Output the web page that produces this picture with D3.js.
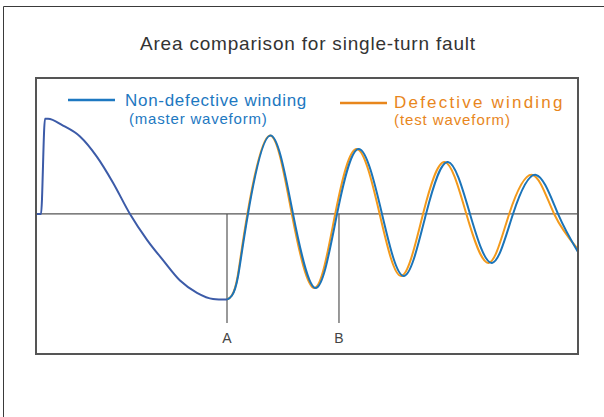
<!DOCTYPE html>
<html lang="en">
<head>
    <meta charset="UTF-8">
    <title>Area comparison for single-turn fault</title>
    <script src="https://d3js.org/d3.v7.min.js"></script>
    <style>
        body { margin: 0; background: #fff; }
        svg { display: block; }
        text { font-family: "Liberation Sans", Arial, sans-serif; }
    </style>
</head>
<body>
    <svg width="604" height="417"></svg>
    <script>
        // time (0..100) and amplitude (-1..1)
        // before A: both windings give the same trace
        const commonT = [0, 0.92, 1.66, 2.21, 4.98, 8.12, 11.25, 14.21, 17.34, 20.48, 23.43, 26.57, 29.70, 32.66, 35.24];
        const commonV = [0, 0, 0.70, 0.70, 0.65, 0.57, 0.42, 0.23, 0, -0.19, -0.34, -0.49, -0.58, -0.625, -0.63];

        // from A onwards
        const masterT = [35.24, 36.16, 37.27, 39.11, 43.17, 47.42, 51.66, 55.54, 59.59, 63.84, 67.90, 71.96, 76.01, 80.07, 84.13, 88.01, 92.25, 96.31, 100];
        const masterV = [-0.63, -0.60, -0.46, 0, 0.576, 0, -0.544, 0, 0.478, 0, -0.456, 0, 0.382, 0, -0.36, 0, 0.287, 0, -0.28];

        const testT = [35.24, 36.12, 37.2, 39.0, 43.08, 47.2, 51.4, 55.2, 59.2, 63.4, 67.4, 71.4, 75.4, 79.4, 83.5, 87.3, 91.6, 95.6, 100];
        const testV = [-0.63, -0.60, -0.46, 0, 0.576, 0, -0.544, 0, 0.478, 0, -0.456, 0, 0.382, 0, -0.36, 0, 0.287, 0, -0.26];

        const markers = ["A", "B"];
        const markerT = [35.24, 55.9];

        const title = "Area comparison for single-turn fault";
        const legendNames = ["Non-defective winding", "Defective winding"];
        const legendSubs = ["(master waveform)", "(test waveform)"];

        const svg = d3.select("svg");

        const box = { left: 36, top: 78, right: 578, bottom: 354 };

        let x = d3.scaleLinear().domain([0, 100]).range([box.left, box.right]);
        let y = d3.scaleLinear().domain([-1.03, 1.0]).range([box.bottom, box.top]);

        // outer frame (cut off on right and bottom)
        svg.append("path")
            .attr("d", "M3.5,420 V6.5 H610")
            .attr("fill", "none")
            .attr("stroke", "#3a3a3a")
            .attr("stroke-width", 1);

        svg.append("text")
            .attr("x", 140)
            .attr("y", 50)
            .attr("font-size", "19px")
            .attr("letter-spacing", "0.8px")
            .attr("fill", "#333")
            .text(title);

        // zero line
        svg.append("line")
            .attr("x1", x(0)).attr("x2", x(100))
            .attr("y1", y(0)).attr("y2", y(0))
            .attr("stroke", "#555")
            .attr("stroke-width", 1.2);

        // marker lines A and B
        markerT.forEach(function (t, i) {
            svg.append("line")
                .attr("x1", x(t)).attr("x2", x(t))
                .attr("y1", y(0)).attr("y2", 323)
                .attr("stroke", "#555")
                .attr("stroke-width", 1.2);
            svg.append("text")
                .attr("x", x(t))
                .attr("y", 343)
                .attr("text-anchor", "middle")
                .attr("font-size", "14px")
                .attr("fill", "#444")
                .text(markers[i]);
        });

        const smooth = d3.line()
            .x(function (d) { return x(d[0]); })
            .y(function (d) { return y(d[1]); })
            .curve(d3.curveMonotoneX);

        const wave = d3.line()
            .x(function (d) { return x(d[0]); })
            .y(function (d) { return y(d[1]); })
            .curve(d3.curveNatural);

        const common = commonT.map(function (t, i) { return [t, commonV[i]]; });
        const master = masterT.map(function (t, i) { return [t, masterV[i]]; });
        const test = testT.map(function (t, i) { return [t, testV[i]]; });

        svg.append("path")
            .attr("d", wave(test))
            .attr("fill", "none")
            .attr("stroke", "#f39a1c")
            .attr("stroke-width", 2);

        svg.append("path")
            .attr("d", smooth(common))
            .attr("fill", "none")
            .attr("stroke", "#3c5ba8")
            .attr("stroke-width", 2);

        svg.append("path")
            .attr("d", wave(master))
            .attr("fill", "none")
            .attr("stroke", "#1b74b9")
            .attr("stroke-width", 2);

        // plot frame
        svg.append("rect")
            .attr("x", box.left).attr("y", box.top)
            .attr("width", box.right - box.left)
            .attr("height", box.bottom - box.top)
            .attr("fill", "none")
            .attr("stroke", "#555")
            .attr("stroke-width", 2);

        // legend
        const legColors = ["#1d78c1", "#e8861c"];
        const legLine = [[68, 115, 100], [340, 387, 103]];
        const legText = [[125, 106, 17, 0.7], [394, 108, 17, 2.2]];
        const legSub = [[129, 124, 15, 0.8], [394, 125, 15, 0.9]];

        legendNames.forEach(function (name, i) {
            svg.append("line")
                .attr("x1", legLine[i][0]).attr("x2", legLine[i][1])
                .attr("y1", legLine[i][2]).attr("y2", legLine[i][2])
                .attr("stroke", legColors[i])
                .attr("stroke-width", 2.5);
            svg.append("text")
                .attr("x", legText[i][0]).attr("y", legText[i][1])
                .attr("font-size", legText[i][2] + "px")
                .attr("letter-spacing", legText[i][3] + "px")
                .attr("fill", legColors[i])
                .text(name);
            svg.append("text")
                .attr("x", legSub[i][0]).attr("y", legSub[i][1])
                .attr("font-size", legSub[i][2] + "px")
                .attr("letter-spacing", legSub[i][3] + "px")
                .attr("fill", legColors[i])
                .text(legendSubs[i]);
        });
    </script>
</body>
</html>
